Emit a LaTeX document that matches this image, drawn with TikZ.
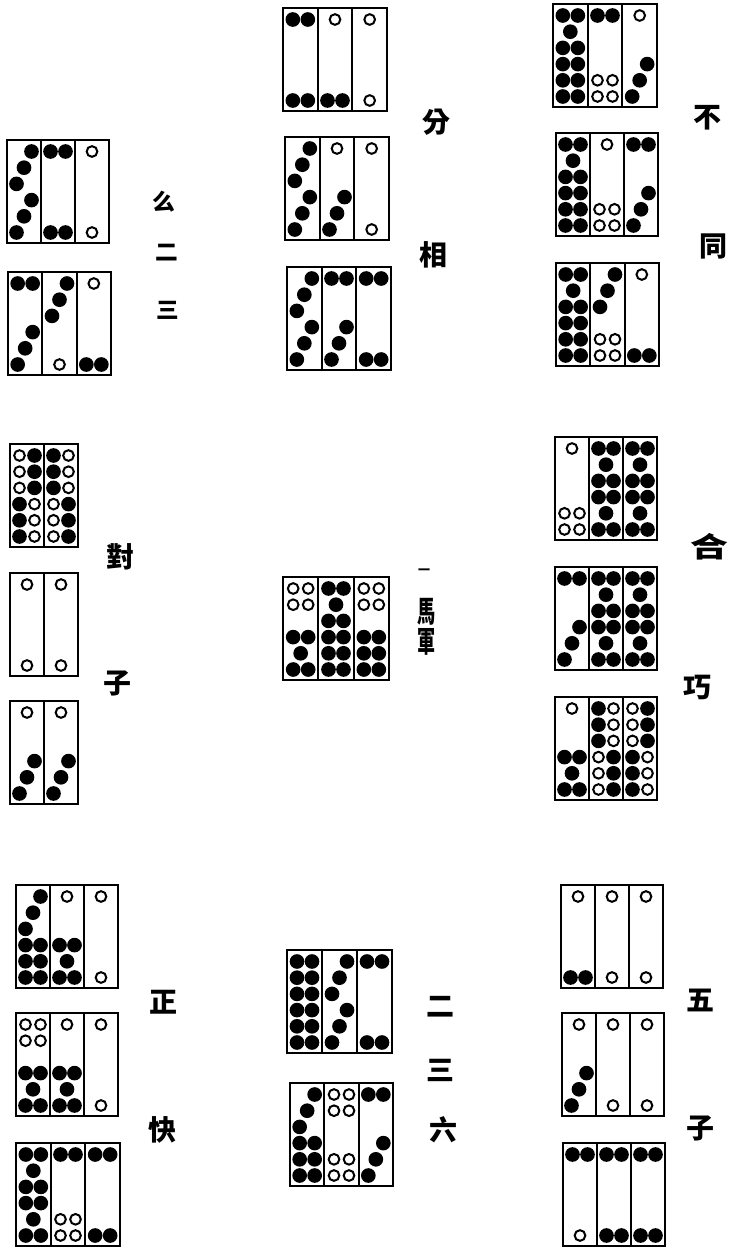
\documentclass[tikz,border=0pt]{standalone}
\usepackage{graphicx}
\usepackage{fontspec}
\newfontfamily\cjk{Noto Sans CJK TC}
\newcommand\fp[2]{\fill (#1,#2) circle[radius=5.5pt];}
\newcommand\op[2]{\draw[openpip] (#1,#2) circle[radius=4pt];}
\newcommand\face[5]{%
 \pgfmathsetmacro\sA{#2+11.5+(#4==0?0:81)}%
 \pgfmathsetmacro\sB{#2+11.5+(#4==0?16.2:64.8)}%
 \pgfmathsetmacro\rA{#2+11.5+(#4==0?0:48.6)}%
 \pgfmathsetmacro\rB{#2+11.5+(#4==0?16.2:64.8)}%
 \pgfmathsetmacro\rC{#2+11.5+(#4==0?32.4:81)}%
 \pgfmathsetmacro\xL{#1-7.5}\pgfmathsetmacro\xR{#1+7.5}%
 \ifcase#3\or
  \op{#1}{\sA}%
 \or
  \fp{\xL}{\sA}\fp{\xR}{\sA}%
 \or
  \fp{\xR}{\rA}\fp{#1}{\rB}\fp{\xL}{\rC}%
 \or
  \op{\xL}{\sA}\op{\xR}{\sA}\op{\xL}{\sB}\op{\xR}{\sB}%
 \or
  \fp{\xL}{\rA}\fp{\xR}{\rA}\fp{#1}{\rB}\fp{\xL}{\rC}\fp{\xR}{\rC}%
 \or
  \ifnum#5=1 \op{\xL}{\rA}\op{\xL}{\rB}\op{\xL}{\rC}\else\fp{\xL}{\rA}\fp{\xL}{\rB}\fp{\xL}{\rC}\fi
  \ifnum#5=2 \op{\xR}{\rA}\op{\xR}{\rB}\op{\xR}{\rC}\else\fp{\xR}{\rA}\fp{\xR}{\rB}\fp{\xR}{\rC}\fi
 \fi}
\newcommand\card[5]{%
 \pgfmathsetmacro\cw{#3/#4}%
 \foreach \t/\b/\m [count=\i from 0] in {#5}{%
   \pgfmathsetmacro\cx{#1+(\i+0.5)*\cw}%
   \pgfmathtruncatemacro\bm{\m==0?0:3-\m}%
   \face{\cx}{#2}{\t}{0}{\m}%
   \face{\cx}{#2}{\b}{1}{\bm}%
   \ifnum\i>0 \draw[frame] (#1+\i*\cw,#2) -- ++(0,103);\fi
 }%
 \draw[frame] (#1,#2) rectangle ++(#3,103);}
\begin{document}
\begin{tikzpicture}[x=0.75pt,y=-0.75pt,
  frame/.style={line width=1.5pt},
  openpip/.style={draw,line width=1.5pt,fill=white},
  lab/.style={inner sep=0pt,font=\cjk\bfseries\fontsize{21}{21}\selectfont},
  labs/.style={inner sep=0pt,font=\cjk\bfseries\fontsize{17}{17}\selectfont}]
\useasboundingbox (0,0) rectangle (734,1249);
% 么二三
\card{7}{140}{102}{3}{3/3/0,2/2/0,1/1/0}
\card{8}{272}{103}{3}{2/3/0,3/1/0,1/2/0}
\node[labs] (a1) at (164,202) {么};
\node[labs] (a2) at (167,253) {二};
\node[labs] (a3) at (168,310) {三};
% 分相
\card{283}{8}{104}{3}{2/2/0,1/2/0,1/1/0}
\card{285}{137}{104}{3}{3/3/0,1/3/0,1/1/0}
\card{287}{267}{104}{3}{3/3/0,2/3/0,2/2/0}
\node[lab] (b1) at (436,122) {分};
\node[lab] (b2) at (433,255) {相};
% 不同
\card{553}{4}{104}{3}{5/6/0,2/4/0,1/3/0}
\card{556}{133}{102}{3}{5/6/0,1/4/0,2/3/0}
\card{556}{263}{103}{3}{5/6/0,3/4/0,1/2/0}
\node[lab] (c1) at (707,118) {不};
\node[lab] (c2) at (713,247) {同};
% 對子
\card{10}{444}{68}{2}{6/6/1,6/6/2}
\card{10}{573}{68}{2}{1/1/0,1/1/0}
\card{10}{701}{68}{2}{1/3/0,1/3/0}
\node[lab] (d1) at (120,557) {對};
\node[lab] (d2) at (117,683) {子};
% 一馬軍
\card{283}{577}{106}{3}{4/5/0,5/6/0,4/6/0}
\node[inner sep=0pt,font=\cjk\bfseries\fontsize{9}{9}\selectfont] (e1) at (424,572) {一};
\node[labs] (e2) at (427,612) {\scalebox{0.8}[1.3]{馬}};
\node[labs] (e3) at (427,642) {\scalebox{0.8}[1.3]{軍}};
% 合巧
\card{555}{437}{102}{3}{1/4/0,5/5/0,5/5/0}
\card{555}{567}{102}{3}{2/3/0,5/5/0,5/5/0}
\card{555}{697}{102}{3}{1/5/0,6/6/2,6/6/1}
\node[lab] (f1) at (709,547) {\scalebox{1.35}[1]{合}};
\node[lab] (f2) at (697,687) {巧};
% 正快
\card{16}{885}{102}{3}{3/6/0,1/5/0,1/1/0}
\card{16}{1013}{102}{3}{4/5/0,1/5/0,1/1/0}
\card{16}{1143}{104}{3}{5/5/0,2/4/0,2/2/0}
\node[lab] (g1) at (163,1002) {正};
\node[lab] (g2) at (162,1130) {快};
% 二三六
\card{287}{950}{105}{3}{6/6/0,3/3/0,2/2/0}
\card{290}{1083}{103}{3}{3/6/0,4/4/0,2/3/0}
\node[lab] (h1) at (440,1007) {二};
\node[lab] (h2) at (440,1070) {三};
\node[lab] (h3) at (443,1130) {六};
% 五子
\card{561}{885}{102}{3}{1/2/0,1/1/0,1/1/0}
\card{562}{1013}{102}{3}{1/3/0,1/1/0,1/1/0}
\card{563}{1143}{102}{3}{2/1/0,2/2/0,2/2/0}
\node[lab] (k1) at (700,1000) {五};
\node[lab] (k2) at (700,1128) {子};
\end{tikzpicture}
\end{document}
